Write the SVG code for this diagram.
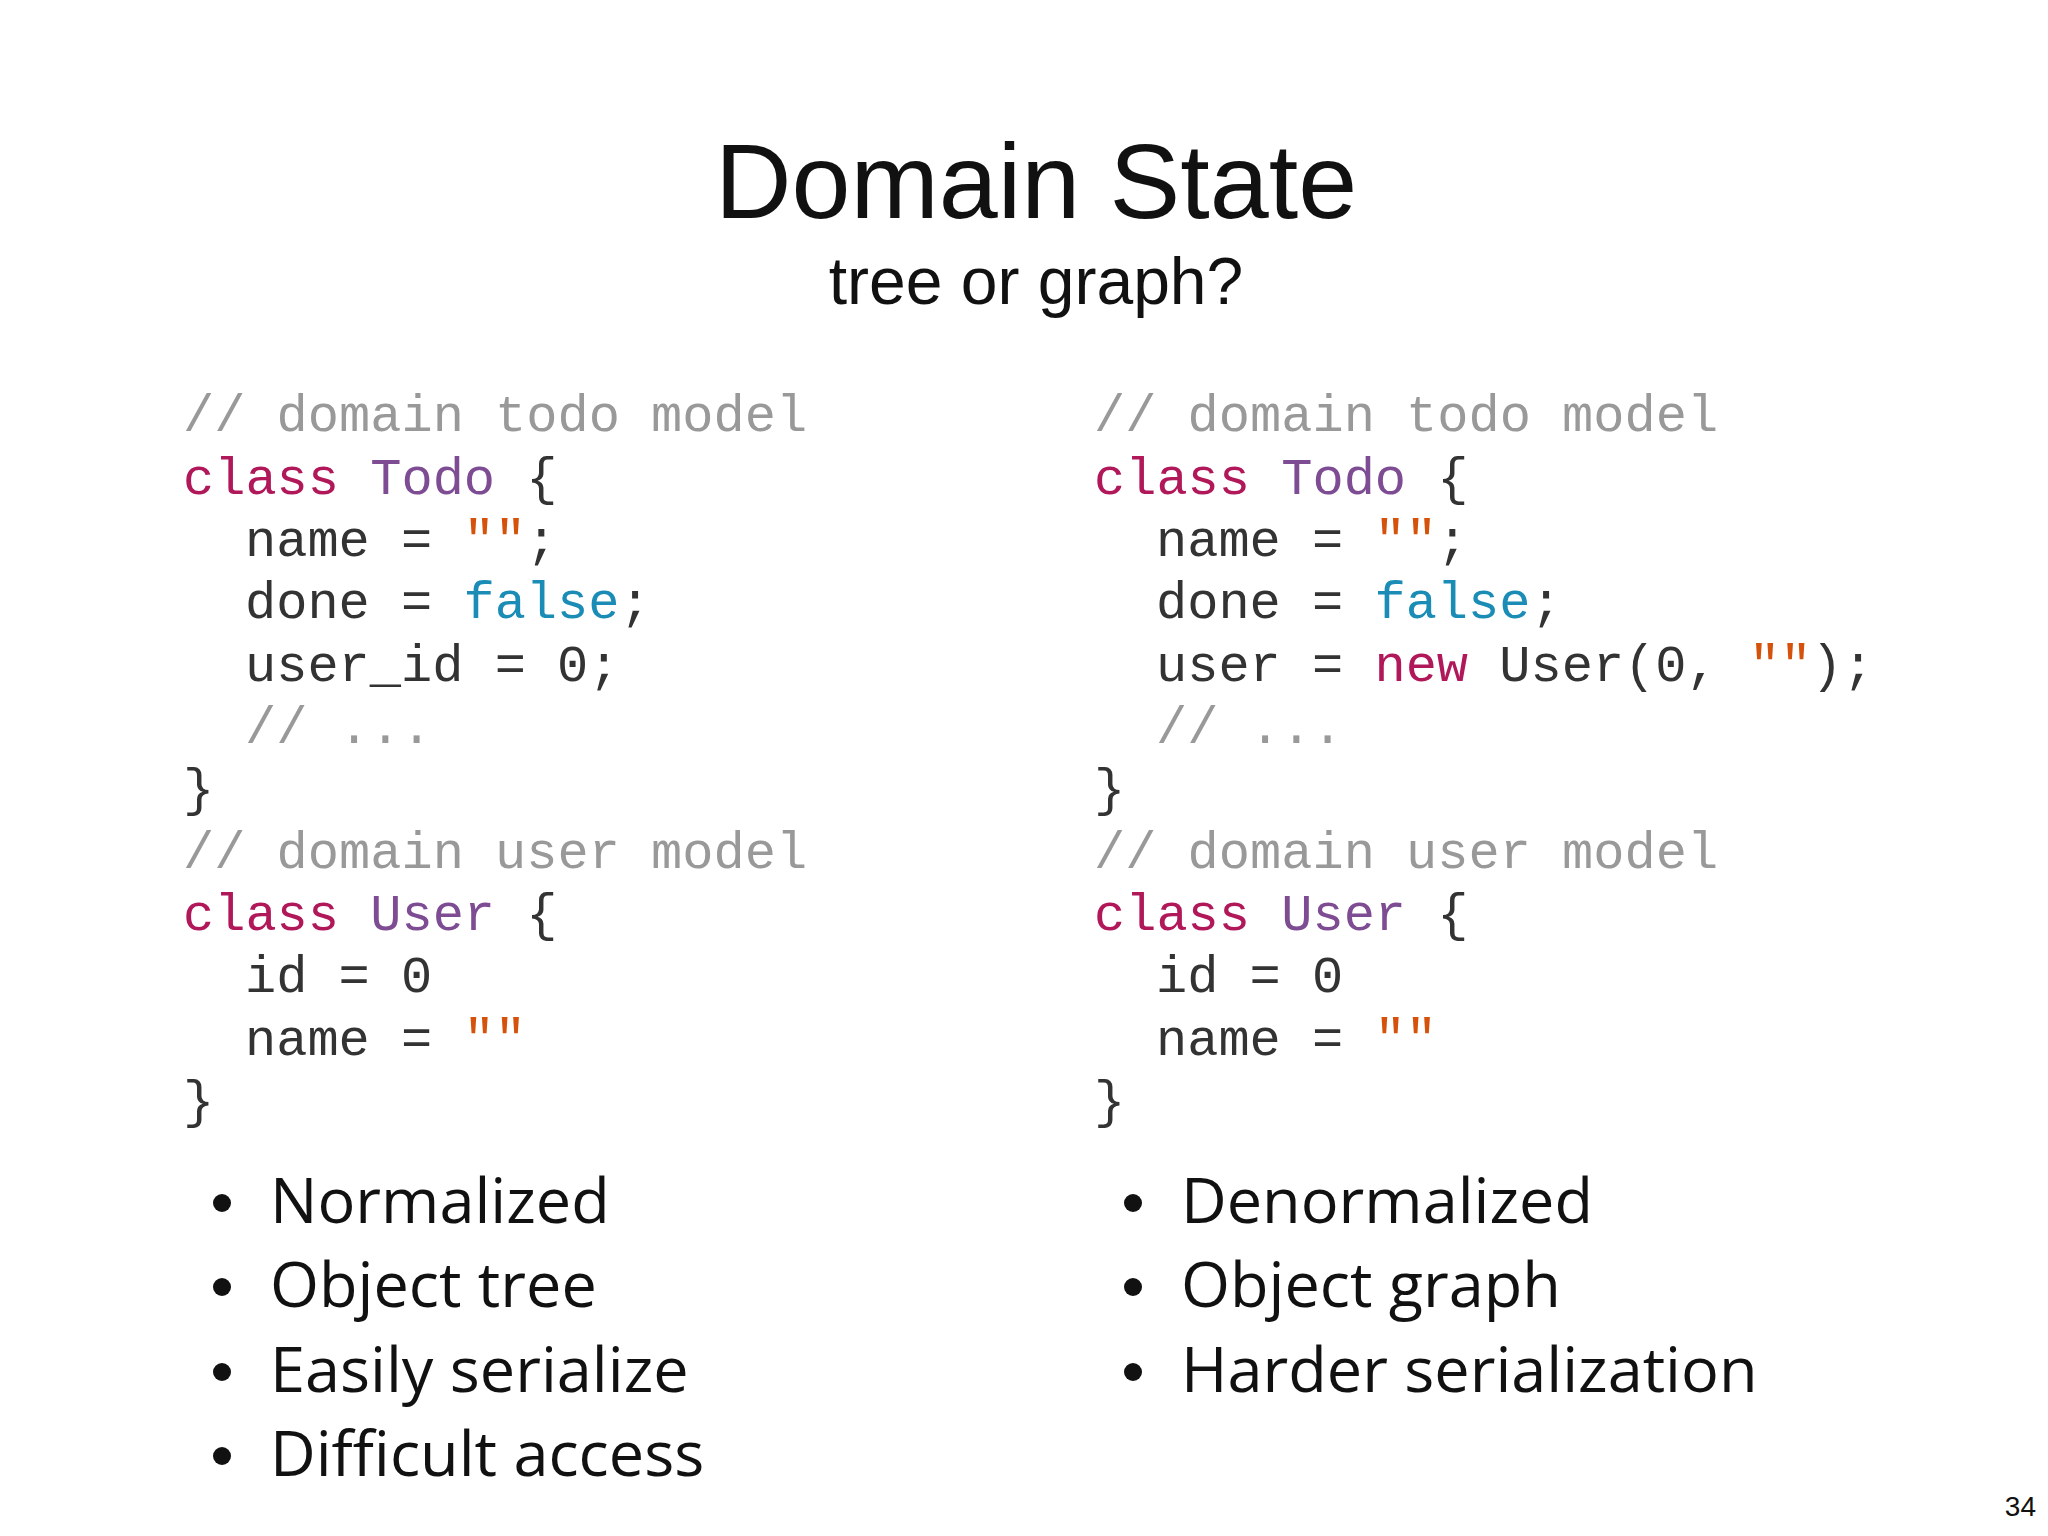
<svg xmlns="http://www.w3.org/2000/svg" width="2048" height="1536" viewBox="0 0 2048 1536">
<style>
.t{font-family:"Liberation Sans",sans-serif;fill:#111;text-anchor:middle}
.c{font-family:"Liberation Mono",monospace;font-size:52px;fill:#333;white-space:pre}
.cm{fill:#999}.k{fill:#b0185a}.n{fill:#7d4c93}.b{fill:#1a8cb5}.s{fill:#d4520b}
.bl{font-family:"Open Sans",sans-serif;font-size:63px;fill:#111}
</style>
<rect width="2048" height="1536" fill="#fff"/>
<g id="title">
<text class="t" x="1036" y="218" font-size="106">Domain State</text>
<text class="t" x="1036" y="304" font-size="66">tree or graph?</text>
</g>
<g id="left-code" class="c" xml:space="preserve">
<text x="183" y="431" class="cm">// domain todo model</text>
<text x="183" y="494"><tspan class="k">class</tspan> <tspan class="n">Todo</tspan> {</text>
<text x="245" y="556">name = <tspan class="s">""</tspan>;</text>
<text x="245" y="618">done = <tspan class="b">false</tspan>;</text>
<text x="245" y="681">user_id = 0;</text>
<text x="245" y="743" class="cm">// ...</text>
<text x="183" y="805">}</text>
<text x="183" y="868" class="cm">// domain user model</text>
<text x="183" y="930"><tspan class="k">class</tspan> <tspan class="n">User</tspan> {</text>
<text x="245" y="992">id = 0</text>
<text x="245" y="1055">name = <tspan class="s">""</tspan></text>
<text x="183" y="1117">}</text>
</g>
<g id="right-code" class="c" xml:space="preserve">
<text x="1094" y="431" class="cm">// domain todo model</text>
<text x="1094" y="494"><tspan class="k">class</tspan> <tspan class="n">Todo</tspan> {</text>
<text x="1156" y="556">name = <tspan class="s">""</tspan>;</text>
<text x="1156" y="618">done = <tspan class="b">false</tspan>;</text>
<text x="1156" y="681">user = <tspan class="k">new</tspan> User(0, <tspan class="s">""</tspan>);</text>
<text x="1156" y="743" class="cm">// ...</text>
<text x="1094" y="805">}</text>
<text x="1094" y="868" class="cm">// domain user model</text>
<text x="1094" y="930"><tspan class="k">class</tspan> <tspan class="n">User</tspan> {</text>
<text x="1156" y="992">id = 0</text>
<text x="1156" y="1055">name = <tspan class="s">""</tspan></text>
<text x="1094" y="1117">}</text>
</g>
<g id="left-bullets" class="bl">
<circle cx="222" cy="1203" r="9" fill="#111"/><text x="270" y="1223">Normalized</text>
<circle cx="222" cy="1287" r="9" fill="#111"/><text x="270" y="1307">Object tree</text>
<circle cx="222" cy="1372" r="9" fill="#111"/><text x="270" y="1392">Easily serialize</text>
<circle cx="222" cy="1456" r="9" fill="#111"/><text x="270" y="1476">Difficult access</text>
</g>
<g id="right-bullets" class="bl">
<circle cx="1133" cy="1203" r="9" fill="#111"/><text x="1181" y="1223">Denormalized</text>
<circle cx="1133" cy="1287" r="9" fill="#111"/><text x="1181" y="1307">Object graph</text>
<circle cx="1133" cy="1372" r="9" fill="#111"/><text x="1181" y="1392">Harder serialization</text>
</g>
<text x="2036" y="1516" font-family="Liberation Sans,sans-serif" font-size="28" text-anchor="end" fill="#111">34</text>
</svg>
